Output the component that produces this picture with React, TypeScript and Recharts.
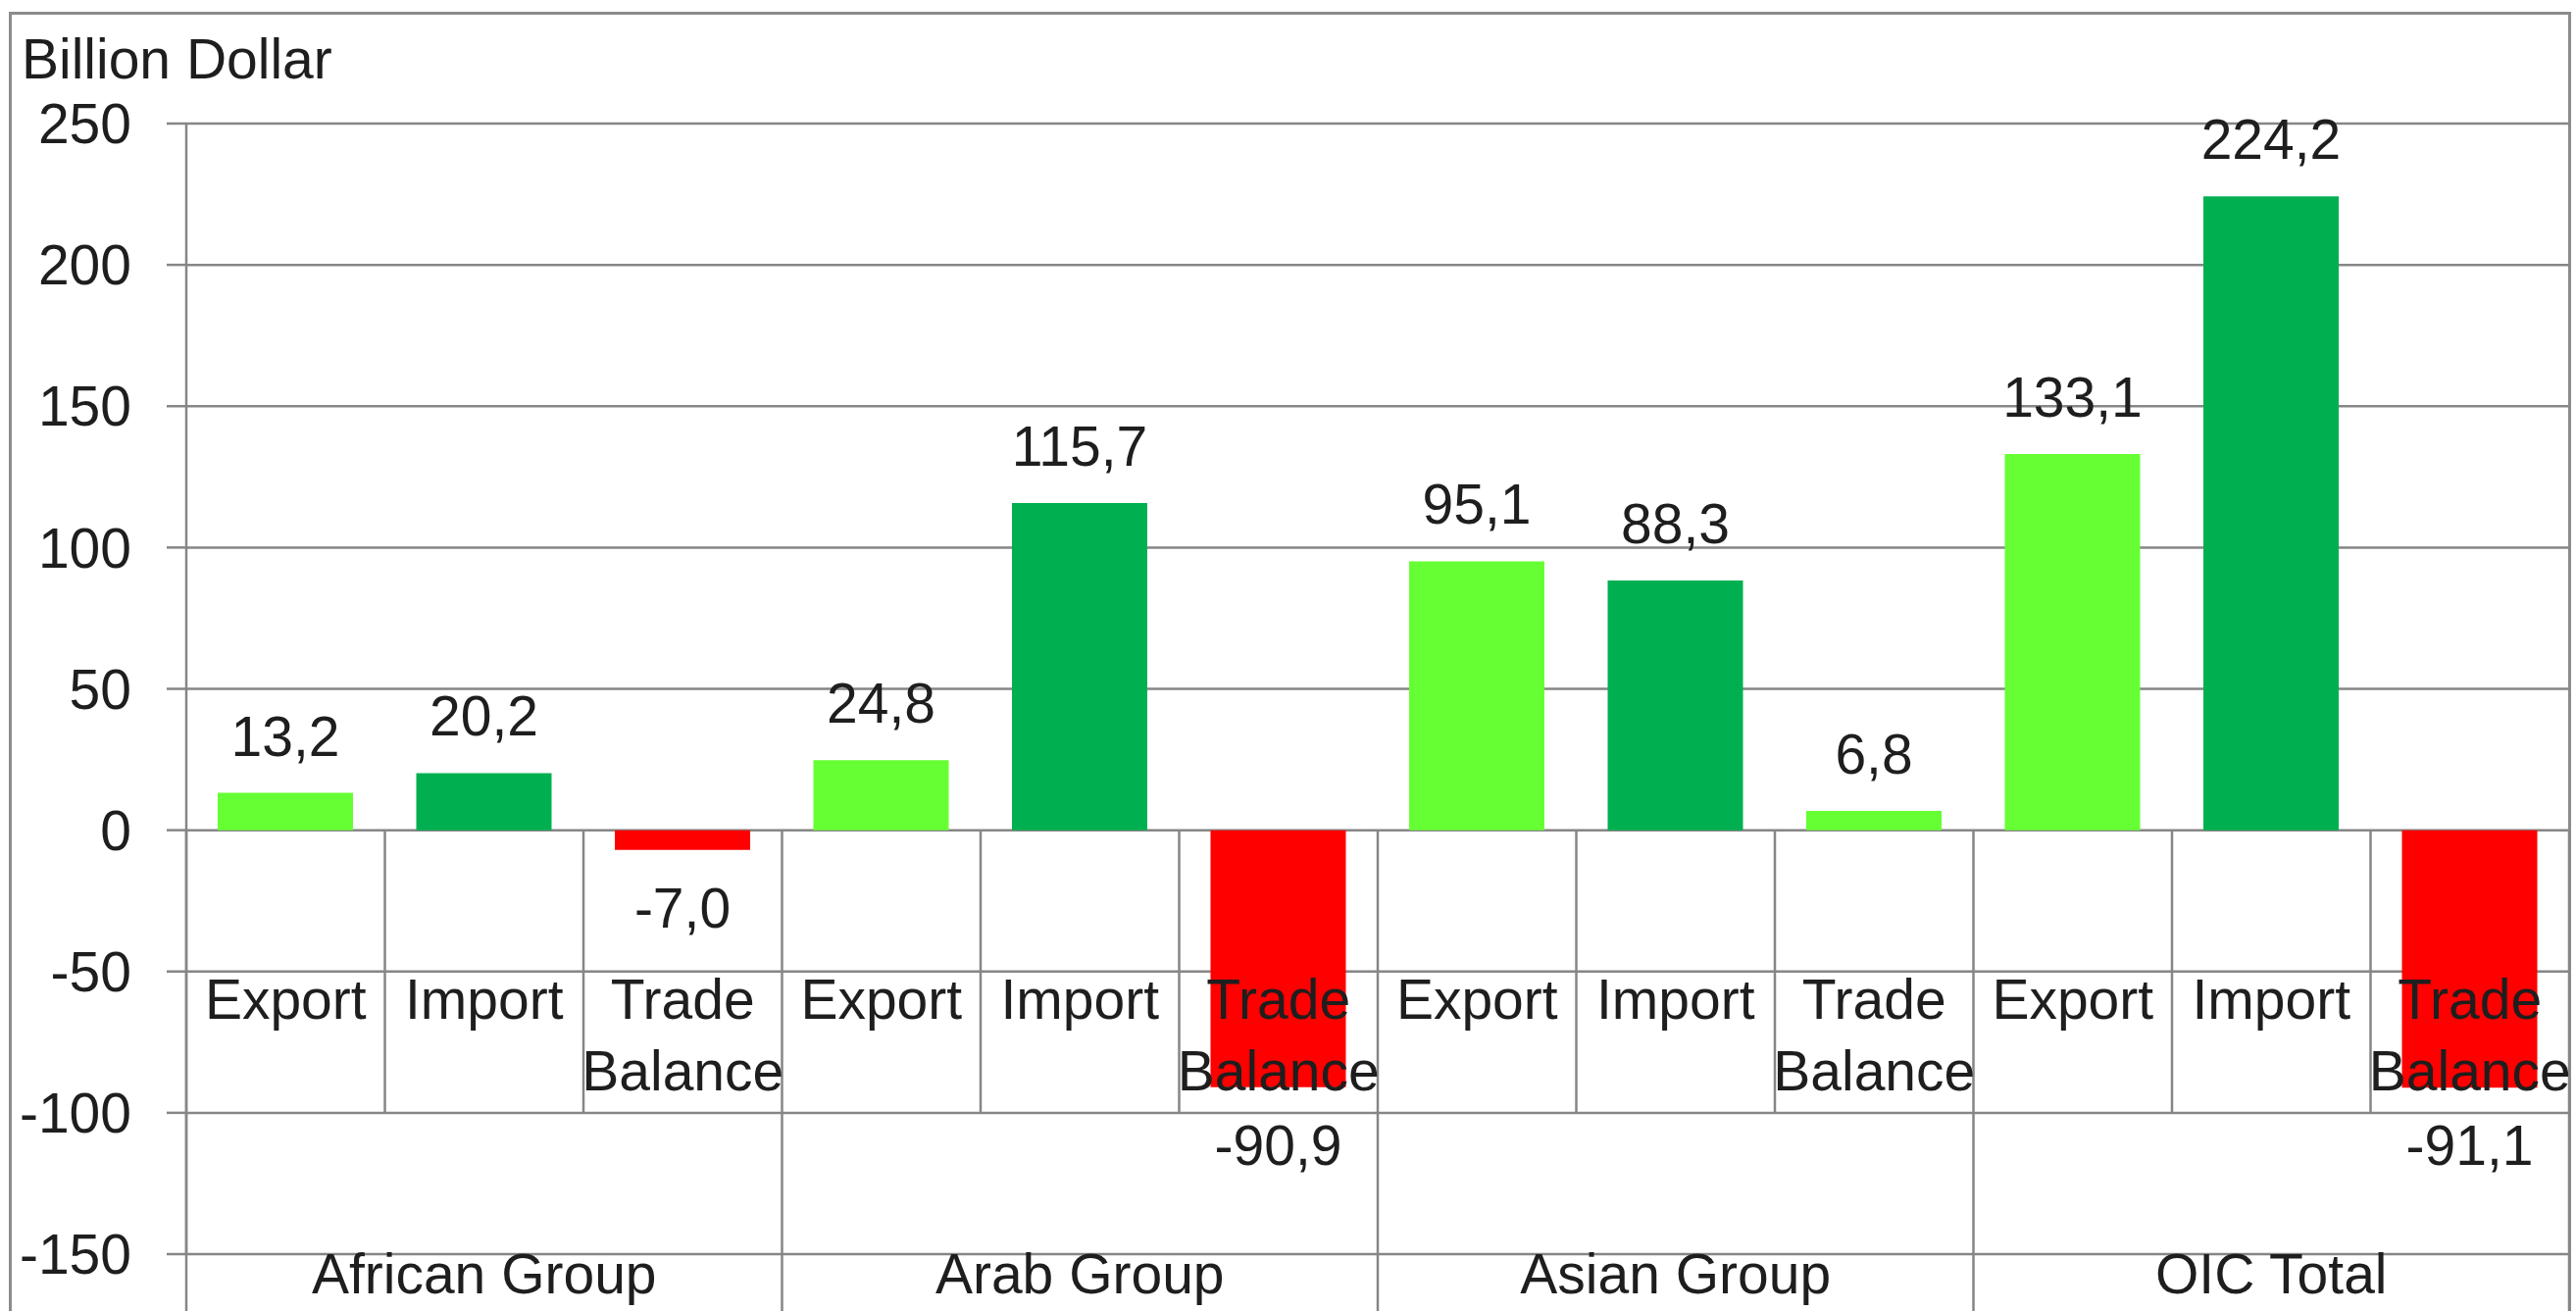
import React from "react";
import { BarChart, Bar, XAxis, YAxis, CartesianGrid, Cell, LabelList } from "recharts";

// Trade figures, billion dollar
const GROUPS = ["African Group", "Arab Group", "Asian Group", "OIC Total"];
const MEASURES = ["Export", "Import", "Trade Balance"];
const EXPORTS = [13.2, 24.8, 95.1, 133.1];
const IMPORTS = [20.2, 115.7, 88.3, 224.2];
const BALANCES = [-7.0, -90.9, 6.8, -91.1];
const Y_TICKS = [-150, -100, -50, 0, 50, 100, 150, 200, 250];

const COLORS = {
  export: "#66ff33",
  import: "#00b050",
  negative: "#ff0000",
  grid: "#868686",
  text: "#1e1e1e",
};

const FONT = "'Liberation Sans', Arial, sans-serif";
const FONT_SIZE = 57;

// layout
const W = 2627;
const H = 1337;
const PLOT = { left: 190, right: 2620, top: 126, bottom: 1279 };
const BAND = (PLOT.right - PLOT.left) / (GROUPS.length * MEASURES.length);
const Y_MIN = Y_TICKS[0];
const Y_MAX = Y_TICKS[Y_TICKS.length - 1];
const yPix = (v: number) =>
  PLOT.top + ((Y_MAX - v) / (Y_MAX - Y_MIN)) * (PLOT.bottom - PLOT.top);

const rows = GROUPS.flatMap((group, g) =>
  MEASURES.map((measure, m) => {
    const value = [EXPORTS[g], IMPORTS[g], BALANCES[g]][m];
    const color =
      m === 1 ? COLORS.import : value < 0 ? COLORS.negative : COLORS.export;
    return { key: `${group}|${measure}`, group, measure, value, color };
  })
);

const fmt = (v: number) => v.toFixed(1).replace(".", ",");

const ValueLabel = (props: any) => {
  const vb = props.viewBox || props;
  const { x, y, width, height } = vb;
  const value = Number(props.value);
  const top = Math.min(y, y + height);
  const bottom = Math.max(y, y + height);
  const cy = value >= 0 ? top - 58 : bottom + 59;
  return (
    <text
      x={x + width / 2}
      y={cy}
      textAnchor="middle"
      dominantBaseline="central"
      fontFamily={FONT}
      fontSize={FONT_SIZE}
      fill={COLORS.text}
    >
      {fmt(value)}
    </text>
  );
};

const CategoryTick = (props: any) => {
  const { x, index } = props;
  const row = rows[index];
  if (!row) return null;
  const words = row.measure.split(" ");
  const right = x + BAND / 2;
  const groupEnd = index % 3 === 2;
  const lineStyle = { stroke: COLORS.grid, strokeWidth: 2.5 };
  return (
    <g>
      {index === 0 && (
        <line x1={x - BAND / 2} x2={x - BAND / 2} y1={yPix(0)} y2={H} {...lineStyle} />
      )}
      <line x1={right} x2={right} y1={yPix(0)} y2={groupEnd ? H : yPix(-100)} {...lineStyle} />
      <text
        x={x}
        y={yPix(-50) + 48}
        textAnchor="middle"
        fontFamily={FONT}
        fontSize={FONT_SIZE}
        fill={COLORS.text}
      >
        {words.map((w: string, i: number) => (
          <tspan key={i} x={x} dy={i === 0 ? 0 : 73}>
            {w}
          </tspan>
        ))}
      </text>
      {index % 3 === 1 && (
        <text
          x={x}
          y={1319}
          textAnchor="middle"
          fontFamily={FONT}
          fontSize={FONT_SIZE}
          fill={COLORS.text}
        >
          {row.group}
        </text>
      )}
    </g>
  );
};

const AxisTitle = () => (
  <text x={22} y={80} fontFamily={FONT} fontSize={FONT_SIZE} fill={COLORS.text}>
    Billion Dollar
  </text>
);

export default function App() {
  return (
    <div
      style={{
        position: "absolute",
        left: 0,
        top: 0,
        width: W,
        height: H,
        background: "#fff",
        overflow: "hidden",
      }}
    >
      <div
        style={{
          position: "absolute",
          left: 9,
          top: 12,
          width: W - 14,
          height: H,
          border: "3px solid #8c8c8c",
          borderBottom: "none",
          boxSizing: "border-box",
        }}
      />
      <BarChart
        width={W}
        height={H}
        data={rows}
        margin={{ top: PLOT.top, right: W - PLOT.right, bottom: 0, left: 0 }}
        style={{ position: "absolute", left: 0, top: 0 }}
      >
        <CartesianGrid vertical={false} stroke={COLORS.grid} strokeWidth={2.5} />
        <YAxis
          type="number"
          domain={[Y_MIN, Y_MAX]}
          ticks={Y_TICKS}
          interval={0}
          width={PLOT.left}
          tickSize={20}
          tickMargin={36}
          axisLine={{ stroke: COLORS.grid, strokeWidth: 2.5 }}
          tickLine={{ stroke: COLORS.grid, strokeWidth: 2.5 }}
          tick={{ fontFamily: FONT, fontSize: FONT_SIZE, fill: COLORS.text }}
          label={<AxisTitle />}
        />
        <Bar dataKey="value" barSize={138} isAnimationActive={false}>
          {rows.map((r) => (
            <Cell key={r.key} fill={r.color} />
          ))}
          <LabelList dataKey="value" content={<ValueLabel />} />
        </Bar>
        <XAxis
          dataKey="key"
          height={H - PLOT.bottom}
          interval={0}
          axisLine={false}
          tickLine={false}
          tick={<CategoryTick />}
        />
      </BarChart>
    </div>
  );
}
